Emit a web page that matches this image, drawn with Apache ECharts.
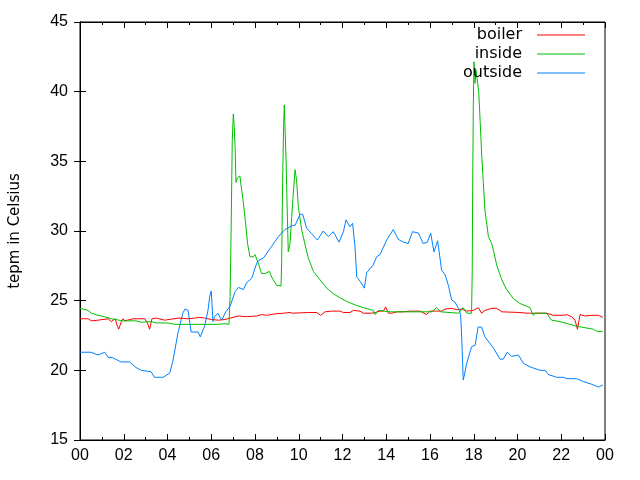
<!DOCTYPE html>
<html>
<head>
<meta charset="utf-8">
<script src="https://cdn.jsdelivr.net/npm/echarts@6/dist/echarts.min.js"></script>
<style>html,body{margin:0;padding:0;background:#fff}#c{width:640px;height:480px}</style>
</head>
<body>
<div id="c"></div>
<script>
const xTicks = ['00','02','04','06','08','10','12','14','16','18','20','22','00'];
const seriesNames = ['boiler', 'inside', 'outside'];

const boilerHours = [0,0.37,0.52,0.82,1.28,1.43,1.61,1.69,1.77,1.89,1.97,2.04,2.42,2.96,3.08,3.18,3.29,3.49,3.87,4.48,4.94,5.24,5.47,5.7,6.0,6.32,6.63,6.86,7.24,7.62,8.08,8.3,8.53,8.91,9.3,9.6,9.71,10.44,10.82,11.0,11.2,11.5,11.89,12.04,12.34,12.5,12.8,12.95,13.33,13.49,13.71,13.87,13.97,14.1,14.25,14.48,14.78,15.09,15.54,15.85,15.97,16.3,16.53,16.69,16.99,17.22,17.45,17.68,17.98,18.21,18.36,18.51,18.82,19.05,19.28,20.11,20.42,20.88,21.33,21.64,22.1,22.25,22.47,22.63,22.74,22.86,23.09,23.39,23.7,23.9];
const boilerValues = [23.7,23.7,23.55,23.6,23.7,23.5,23.7,23.25,22.95,23.5,23.7,23.55,23.7,23.7,23.4,22.95,23.7,23.75,23.6,23.75,23.7,23.75,23.8,23.75,23.65,23.6,23.65,23.75,23.9,23.85,23.9,24.0,23.95,24.05,24.1,24.15,24.1,24.15,24.15,23.95,24.2,24.25,24.25,24.15,24.15,24.3,24.25,24.1,24.1,24.15,24.25,24.25,24.55,24.1,24.1,24.2,24.2,24.25,24.25,24.0,24.25,24.25,24.25,24.4,24.45,24.35,24.4,24.25,24.3,24.5,24.1,24.3,24.45,24.45,24.2,24.15,24.1,24.1,24.1,23.95,23.95,24.0,23.85,23.6,22.95,24.0,23.9,23.95,23.95,23.8];

const insideHours = [0,0.37,0.52,0.82,1.13,1.43,1.96,2.57,2.8,3.26,3.49,4.02,4.33,6.3,6.63,6.81,6.86,6.9,6.96,7.01,7.05,7.09,7.13,7.19,7.31,7.39,7.47,7.57,7.66,7.77,7.92,8.0,8.15,8.3,8.46,8.66,8.76,8.99,9.19,9.22,9.26,9.31,9.34,9.37,9.42,9.48,9.52,9.6,9.68,9.75,9.83,9.9,9.98,10.13,10.29,10.44,10.67,10.97,11.28,11.58,11.89,12.19,12.57,12.95,13.4,13.49,13.64,14.17,16.08,16.3,16.38,16.49,17.3,17.52,17.68,17.9,17.93,17.95,17.98,18.01,18.06,18.1,18.16,18.23,18.29,18.36,18.44,18.51,18.67,18.82,18.9,19.05,19.28,19.5,19.81,20.11,20.42,20.57,20.72,20.8,21.33,21.56,21.94,22.4,22.63,22.93,23.47,23.62,23.9];
const insideValues = [24.45,24.3,24.1,23.95,23.85,23.7,23.55,23.55,23.45,23.5,23.4,23.4,23.3,23.3,23.35,23.3,25.3,29.1,36.5,38.4,37.5,36.05,33.5,33.8,33.95,32.95,32.0,30.55,29.1,28.15,28.15,28.3,27.7,26.95,26.95,27.1,26.7,26.1,26.05,27.9,33.4,37.7,39.05,37.5,35.1,31.0,28.5,29.1,31.05,32.7,34.4,33.65,31.75,30.1,29.0,28.05,27.1,26.5,25.9,25.5,25.2,24.95,24.7,24.5,24.3,24.0,24.3,24.2,24.2,24.5,24.55,24.2,24.1,24.5,24.1,24.1,27.1,33.0,39.05,42.15,40.6,41.55,40.85,39.9,37.95,35.6,33.4,31.5,29.6,29.1,28.6,27.55,26.5,25.8,25.15,24.8,24.6,24.5,23.95,24.1,24.1,23.6,23.5,23.3,23.2,23.1,22.95,22.8,22.8];

const outsideHours = [0,0.5,0.82,1.13,1.28,1.5,1.88,2.27,2.56,2.8,3.25,3.4,3.8,4.1,4.25,4.48,4.7,4.8,4.94,5.08,5.4,5.5,5.7,5.85,5.93,6.0,6.08,6.15,6.3,6.48,6.66,6.86,7.09,7.24,7.47,7.62,7.85,8.08,8.18,8.38,8.76,9.07,9.37,9.71,9.83,10.06,10.18,10.36,10.59,10.85,11.12,11.35,11.58,11.84,12.04,12.16,12.34,12.46,12.57,12.65,12.8,13.0,13.1,13.4,13.56,13.71,14.02,14.32,14.55,14.78,15.0,15.2,15.47,15.69,15.88,16.03,16.18,16.35,16.53,16.69,16.84,16.99,17.14,17.3,17.4,17.45,17.52,17.68,17.9,18.06,18.2,18.36,18.51,18.9,19.2,19.35,19.53,19.73,20.04,20.27,20.57,21.03,21.26,21.41,21.79,22.1,22.25,22.7,23.0,23.39,23.7,23.9];
const outsideValues = [21.3,21.3,21.1,21.3,20.95,20.9,20.6,20.6,20.2,20.0,19.9,19.5,19.5,19.8,20.7,22.7,24.1,24.4,24.3,22.75,22.75,22.4,23.2,24.3,25.3,25.7,23.5,23.85,24.1,23.6,24.2,24.6,25.65,25.95,25.8,26.3,26.6,27.7,27.9,28.05,28.9,29.6,30.1,30.4,30.4,31.2,31.2,30.2,29.8,29.35,30.0,29.6,29.95,29.2,29.95,30.8,30.3,30.55,28.9,26.7,26.4,25.9,27.0,27.55,28.15,28.3,29.35,30.1,29.4,29.2,29.1,29.95,29.85,29.1,29.2,29.85,28.5,29.3,27.2,26.85,26.1,25.05,24.9,24.45,24.0,22.3,19.3,20.5,21.7,21.8,23.1,23.1,22.4,21.6,20.8,20.8,21.3,21.0,21.1,20.5,20.25,20.0,20.0,19.7,19.5,19.5,19.4,19.4,19.2,19.0,18.8,18.95];

const colors = ['#ff0000', '#00c000', '#0080ff'];
const FONT = 'Liberation Sans';
const FONT2 = 'DejaVu Sans';
const FS = 16;

function pairs(h, v) { return h.map((x, i) => [x, v[i]]); }

const chart = echarts.init(document.getElementById('c'), null, {renderer: 'canvas'});

const legendTops = [27, 46, 65];
const legends = seriesNames.map((n, i) => ({
  data: [n],
  right: 55,
  top: legendTops[i],
  orient: 'vertical',
  align: 'right',
  icon: 'rect',
  itemWidth: 48,
  itemHeight: 1,
  padding: 0,
  selectedMode: false,
  textStyle: {fontFamily: FONT2, fontSize: FS, color: '#000', padding: [0, 10, 0, 0]}
}));

const tickCommon = {show: true, inside: true, length: 6, lineStyle: {color: '#000', width: 1}};

chart.setOption({
  animation: false,
  backgroundColor: '#fff',
  legend: legends,
  grid: {left: 80, right: 35, top: 22, bottom: 40, show: true, borderColor: '#000', borderWidth: 1},
  xAxis: [
    {
      type: 'value', min: 0, max: 24, interval: 2, position: 'bottom',
      axisLine: {show: true, lineStyle: {color: '#000'}},
      axisTick: tickCommon,
      minorTick: {show: true, splitNumber: 2, length: 3, lineStyle: {color: '#000'}},
      splitLine: {show: false},
      axisLabel: {color: '#000', fontFamily: FONT, fontSize: FS, margin: 8,
        formatter: (v) => xTicks[Math.round(v / 2)]}
    },
    {
      type: 'value', min: 0, max: 24, interval: 2, position: 'top',
      axisLine: {show: true, lineStyle: {color: '#000'}},
      axisTick: tickCommon,
      minorTick: {show: true, splitNumber: 2, length: 3, lineStyle: {color: '#000'}},
      splitLine: {show: false},
      axisLabel: {show: false}
    }
  ],
  yAxis: [
    {
      type: 'value', min: 15, max: 45, interval: 5, position: 'left',
      name: 'tepm in Celsius', nameLocation: 'middle', nameRotate: 90, nameGap: 57,
      nameTextStyle: {color: '#000', fontFamily: FONT2, fontSize: 15},
      axisLine: {show: true, lineStyle: {color: '#000'}},
      axisTick: tickCommon,
      splitLine: {show: false},
      axisLabel: {color: '#000', fontFamily: FONT, fontSize: FS, margin: 12}
    },
    {
      type: 'value', min: 15, max: 45, interval: 5, position: 'right',
      axisLine: {show: true, lineStyle: {color: '#000'}},
      axisTick: tickCommon,
      splitLine: {show: false},
      axisLabel: {show: false}
    }
  ],
  series: [
    {name: seriesNames[0], type: 'line', color: colors[0], data: pairs(boilerHours, boilerValues)},
    {name: seriesNames[1], type: 'line', color: colors[1], data: pairs(insideHours, insideValues)},
    {name: seriesNames[2], type: 'line', color: colors[2], data: pairs(outsideHours, outsideValues)}
  ].map(s => Object.assign(s, {showSymbol: false, symbol: 'none', lineStyle: {width: 1, color: s.color}, itemStyle: {color: s.color}, silent: true}))
});
</script>
</body>
</html>
